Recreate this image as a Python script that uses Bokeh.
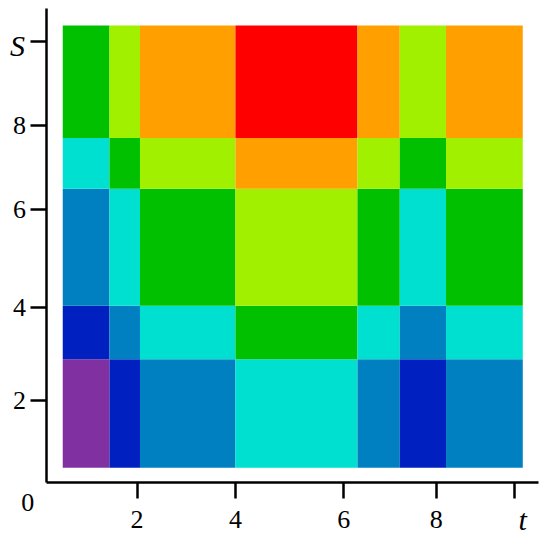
from bokeh.plotting import figure
from bokeh.models import FixedTicker, Label, ColumnDataSource, Range1d
from bokeh.embed import file_html
from bokeh.resources import INLINE

# cell edges along t (x) and S (y), in plot units
x_edges = [0.33, 1.28, 1.90, 3.84, 6.32, 7.18, 8.12, 9.68]
y_edges = [0.31, 2.60, 3.73, 6.20, 7.27, 9.64]

# colour level of each cell, rows from bottom to top
levels = [
    [0, 1, 2, 3, 2, 1, 2],
    [1, 2, 3, 4, 3, 2, 3],
    [2, 3, 4, 5, 4, 3, 4],
    [3, 4, 5, 6, 5, 4, 5],
    [4, 5, 6, 7, 6, 5, 6],
]
palette = ["#8030A0", "#0020C0", "#0080C0", "#00E0D0",
           "#00C000", "#A0F000", "#FFA000", "#FF0000"]

# tick positions and their labels (last tick of each axis carries the axis name)
x_tick_pos = [1.84, 3.84, 6.04, 7.92, 9.52]
x_tick_labels = ["2", "4", "6", "8", "t"]
y_tick_pos = [1.73, 3.70, 5.75, 7.53, 9.31]
y_tick_labels = ["2", "4", "6", "8", "S"]
origin_label = "0"

left, right, bottom, top, color = [], [], [], [], []
for r, row in enumerate(levels):
    for c, lv in enumerate(row):
        left.append(x_edges[c]); right.append(x_edges[c + 1])
        bottom.append(y_edges[r]); top.append(y_edges[r + 1])
        color.append(palette[lv])
src = ColumnDataSource(dict(left=left, right=right, bottom=bottom, top=top, color=color))

p = figure(width=542, height=536, output_backend="svg", toolbar_location=None,
           x_range=Range1d(-0.935, 10.081), y_range=Range1d(-1.139, 10.169),
           min_border_left=0, min_border_right=0, min_border_top=0, min_border_bottom=0)
p.quad(left="left", right="right", bottom="bottom", top="top", color="color",
       line_color=None, source=src)
p.xgrid.visible = False
p.ygrid.visible = False
p.outline_line_color = None

for ax, pos in ((p.xaxis[0], x_tick_pos), (p.yaxis[0], y_tick_pos)):
    ax.fixed_location = 0
    ax.bounds = (0, 10)
    ax.ticker = FixedTicker(ticks=pos)
    ax.major_label_overrides = {v: "" for v in pos}
    ax.axis_line_width = 2.5
    ax.axis_line_color = "black"
    ax.major_tick_line_width = 2.5
    ax.major_tick_line_color = "black"
    ax.major_tick_out = 16
    ax.major_tick_in = 0
    ax.minor_tick_line_color = None

# tick labels drawn as serif text beside the ticks
for pos, lab in zip(x_tick_pos, x_tick_labels):
    italic = lab.isalpha()
    p.add_layout(Label(x=pos + (0.16 if italic else 0.0), y=-0.78, text=lab,
                       text_font="Liberation Serif",
                       text_font_style="italic" if italic else "normal",
                       text_font_size="30px" if italic else "26px", text_color="black",
                       text_align="center", text_baseline="middle"))
for pos, lab in zip(y_tick_pos, y_tick_labels):
    italic = lab.isalpha()
    p.add_layout(Label(x=-0.55 if not italic else -0.59, y=pos - (0.08 if italic else 0.0),
                       text=lab, text_font="Liberation Serif",
                       text_font_style="italic" if italic else "normal",
                       text_font_size="30px" if italic else "26px", text_color="black",
                       text_align="center", text_baseline="middle"))
p.add_layout(Label(x=-0.38, y=-0.42, text=origin_label, text_font="Liberation Serif",
                   text_font_size="26px", text_color="black",
                   text_align="center", text_baseline="middle"))

open("out.html", "w").write(file_html(p, INLINE))
